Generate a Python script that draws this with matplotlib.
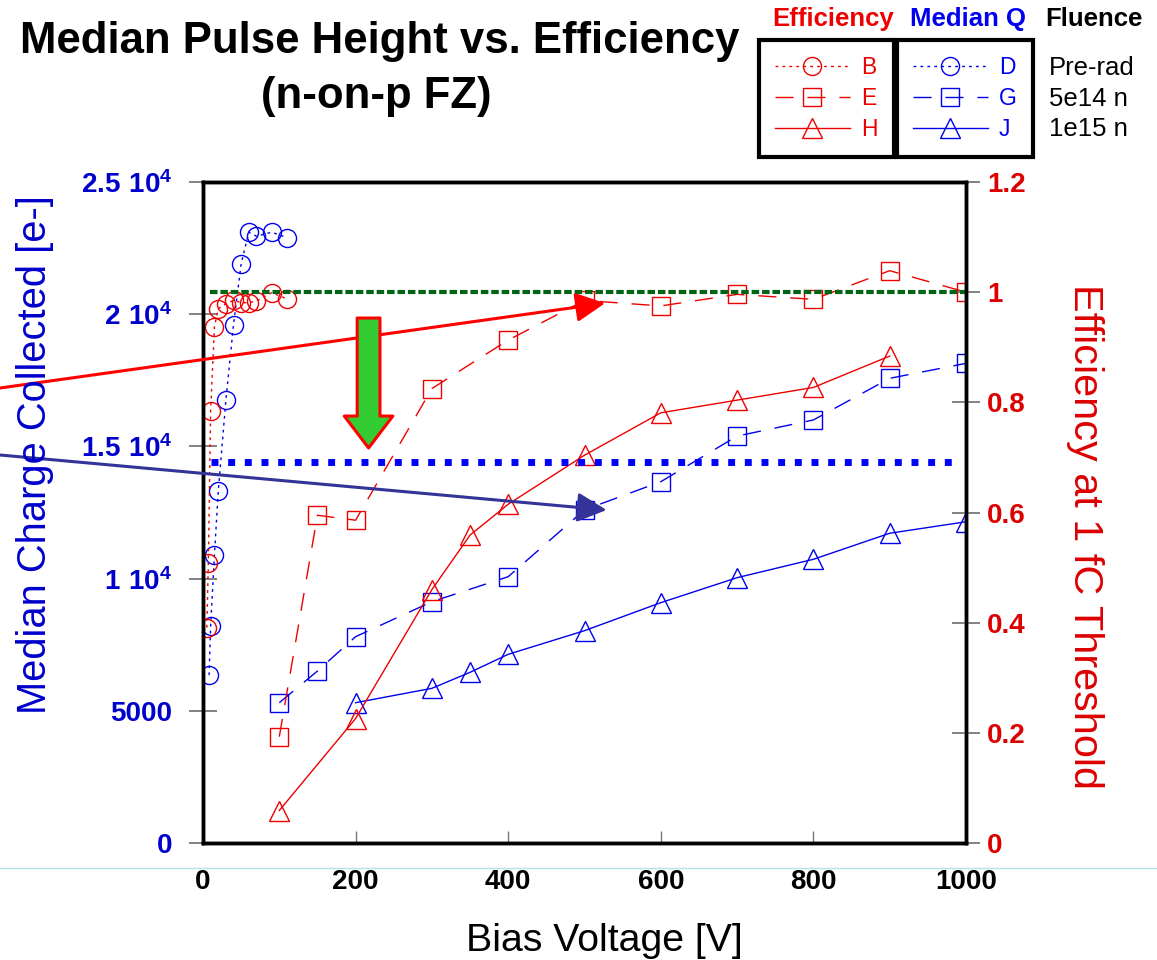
import numpy as np
import matplotlib
matplotlib.use('Agg')
import matplotlib.pyplot as plt
from matplotlib.lines import Line2D

plt.rcParams['font.family'] = ['Liberation Sans', 'DejaVu Sans']
plt.rcParams['mathtext.fontset'] = 'custom'
plt.rcParams['mathtext.rm'] = 'Liberation Sans'
plt.rcParams['mathtext.bf'] = 'Liberation Sans:bold'
plt.rcParams['mathtext.default'] = 'bf'

RED = '#EE0000'
BLUE = '#0000EE'
LBLUE = '#0000CC'
DRED = '#DD0000'

# pre-rad (median charge, left axis)
d_v = [8, 10, 15, 20, 30, 40, 50, 60, 70, 90, 110]
d_q = [6350, 8200, 10900, 13300, 16750, 19600, 21900, 23100, 22950, 23100, 22900]
# pre-rad (efficiency, right axis)
b_v = [5, 7, 10, 15, 20, 30, 40, 50, 60, 70, 90, 110]
b_eff = [0.391, 0.509, 0.784, 0.937, 0.970, 0.979, 0.985, 0.981, 0.981, 0.984, 0.999, 0.988]
# 5e14 n
e_v = [100, 150, 200, 300, 400, 500, 600, 700, 800, 900, 1000]
e_eff = [0.193, 0.595, 0.586, 0.825, 0.913, 0.985, 0.975, 0.996, 0.987, 1.039, 1.0]
g_v = [100, 150, 200, 300, 400, 500, 600, 700, 800, 900, 1000]
g_q = [5306, 6505, 7803, 9126, 10072, 12600, 13665, 15390, 16000, 17575, 18140]
# 1e15 n
h_v = [100, 200, 300, 350, 400, 500, 600, 700, 800, 900]
h_eff = [0.059, 0.226, 0.460, 0.559, 0.615, 0.704, 0.781, 0.804, 0.827, 0.884]
j_v = [200, 300, 350, 400, 500, 600, 700, 800, 900, 1000]
j_q = [5306, 5850, 6455, 7137, 8030, 9090, 10035, 10730, 11715, 12150]

# reference levels
eff_ref_v = [9, 1000]
eff_ref = 1.0
q_ref_v = [11, 990]
q_ref = 14400

left_ticks = [0, 5000, 10000, 15000, 20000, 25000]
left_labels = ['0', '5000', r'$1\ 10^{4}$', r'$1.5\ 10^{4}$', r'$2\ 10^{4}$', r'$2.5\ 10^{4}$']
right_ticks = [0, 0.2, 0.4, 0.6, 0.8, 1.0, 1.2]
right_labels = ['0', '0.2', '0.4', '0.6', '0.8', '1', '1.2']
x_ticks = [0, 200, 400, 600, 800, 1000]

fig = plt.figure(figsize=(11.57, 9.6), dpi=100)
ax = fig.add_axes([203 / 1157, 1 - 843 / 960, 763 / 1157, 661 / 960])
ax2 = ax.twinx()

ax.set_xlim(0, 1000)
ax.set_ylim(0, 25000)
ax2.set_ylim(0, 1.2)

dot = (0, (2, 3))
dash = (0, (13, 10))
mk = dict(markerfacecolor='none', markeredgewidth=1.0)

lD, = ax.plot(d_v, d_q, color=BLUE, ls=dot, lw=1, marker='o', ms=13, mec=BLUE, **mk)
lG, = ax.plot(g_v, g_q, color=BLUE, ls=dash, lw=1, marker='s', ms=13, mec=BLUE, **mk)
lJ, = ax.plot(j_v, j_q, color=BLUE, ls='-', lw=1, marker='^', ms=15, mec=BLUE, **mk)

lB, = ax2.plot(b_v, b_eff, color=RED, ls=dot, lw=1, marker='o', ms=13, mec=RED, **mk)
lE, = ax2.plot(e_v, e_eff, color=RED, ls=dash, lw=1, marker='s', ms=13, mec=RED, **mk)
lH, = ax2.plot(h_v, h_eff, color=RED, ls='-', lw=1, marker='^', ms=15, mec=RED, **mk)

# reference lines (on top)
ax2.plot(eff_ref_v, [eff_ref, eff_ref], color='#006414', lw=3, dashes=(1.8, 0.7),
         solid_capstyle='butt', dash_capstyle='butt')
ax2.plot(q_ref_v, [q_ref, q_ref], color='#0000FF', lw=5, dashes=(1.0, 1.4),
         dash_capstyle='butt', transform=ax.transData)

# arrows
a1 = ax2.annotate('', xy=(527, 0.980), xytext=(-266, 0.826), annotation_clip=False,
                  arrowprops=dict(arrowstyle='-|>,head_length=0.9,head_width=0.45',
                                  color='#FF0000', lw=2.2, mutation_scale=20,
                                  shrinkA=0, shrinkB=0))
a1.arrow_patch.set_clip_on(False)
a2 = ax2.annotate('', xy=(529, 12595), xytext=(-266, 14675), annotation_clip=False,
                  xycoords=ax.transData, textcoords=ax.transData,
                  arrowprops=dict(arrowstyle='-|>,head_length=0.9,head_width=0.45',
                                  color='#333399', lw=2.2, mutation_scale=20,
                                  shrinkA=0, shrinkB=0))
a2.arrow_patch.set_clip_on(False)
ax2.annotate('', xy=(217, 14940), xytext=(217, 19855),
             xycoords=ax.transData, textcoords=ax.transData,
             arrowprops=dict(arrowstyle='simple,head_length=1.15,head_width=1.75,tail_width=0.82',
                             fc='#33CC33', ec='#FF0000', lw=2.2, mutation_scale=20,
                             shrinkA=0, shrinkB=0))

# ticks
ax.set_xticks(x_ticks)
ax.set_xticklabels([str(v) for v in x_ticks], fontsize=20, fontweight='bold')
ax.tick_params(axis='x', direction='in', length=9, width=1, color='#777777', pad=19)
ax.set_yticks(left_ticks)
ax.set_yticklabels(left_labels, fontsize=20, fontweight='bold', color=LBLUE)
ax.tick_params(axis='y', direction='inout', length=20, width=1.3, color='#777777', pad=12)
ax2.set_yticks(right_ticks)
ax2.set_yticklabels(right_labels, fontsize=20, fontweight='bold', color=DRED)
ax2.tick_params(axis='y', direction='inout', length=20, width=1.3, color='#777777', pad=5)

for a in (ax, ax2):
    for s in a.spines.values():
        s.set_linewidth(2.5)
        s.set_color('black')

# axis labels
fig.text(35 / 1157, 1 - 455 / 960, 'Median Charge Collected [e-]', rotation=90,
         ha='center', va='center', fontsize=28.7, color=LBLUE)
fig.text(1085 / 1157, 1 - 536 / 960, 'Efficiency at 1 fC Threshold', rotation=270,
         ha='center', va='center', fontsize=29.8, color=DRED)
fig.text(604 / 1157, 1 - 951 / 960, 'Bias Voltage [V]', ha='center', va='baseline', fontsize=28.3)

# title
fig.text(380 / 1157, 1 - 53 / 960, 'Median Pulse Height vs. Efficiency', ha='center',
         va='baseline', fontsize=31.5, fontweight='bold')
fig.text(376 / 1157, 1 - 108 / 960, '(n-on-p FZ)', ha='center', va='baseline',
         fontsize=31.5, fontweight='bold')

# legend
leg_kw = dict(loc='upper left', frameon=True, fancybox=False, framealpha=1,
              edgecolor='black', fontsize=16.5, numpoints=1, handlelength=3.25,
              handletextpad=0.5, borderpad=0.7, labelspacing=0.35, borderaxespad=0)
leg1 = fig.legend([lB, lE, lH], ['B', 'E', 'H'], bbox_to_anchor=(759 / 1157, 1 - 40 / 960),
                  labelcolor=RED, **leg_kw)
leg1.get_frame().set_linewidth(3)
leg2 = fig.legend([lD, lG, lJ], ['D', 'G', 'J'], bbox_to_anchor=(897 / 1157, 1 - 40 / 960),
                  labelcolor=BLUE, **leg_kw)
leg2.get_frame().set_linewidth(3)

fig.text(833 / 1157, 1 - 19 / 960, 'Efficiency', ha='center', va='center', fontsize=18.5,
         fontweight='bold', color=RED)
fig.text(968 / 1157, 1 - 19 / 960, 'Median Q', ha='center', va='center', fontsize=18.5,
         fontweight='bold', color=BLUE)
fig.text(1094 / 1157, 1 - 19 / 960, 'Fluence', ha='center', va='center', fontsize=18.5,
         fontweight='bold', color='black')
for i, t in enumerate(['Pre-rad', '5e14 n', '1e15 n']):
    fig.text(1049 / 1157, 1 - (68 + 30.5 * i) / 960, t, ha='left', va='center', fontsize=18.5)

fig.add_artist(Line2D([0, 1], [1 - 868 / 960] * 2, color='#B5E0F2', lw=1, zorder=-5))

fig.savefig('out.png', dpi=100)
